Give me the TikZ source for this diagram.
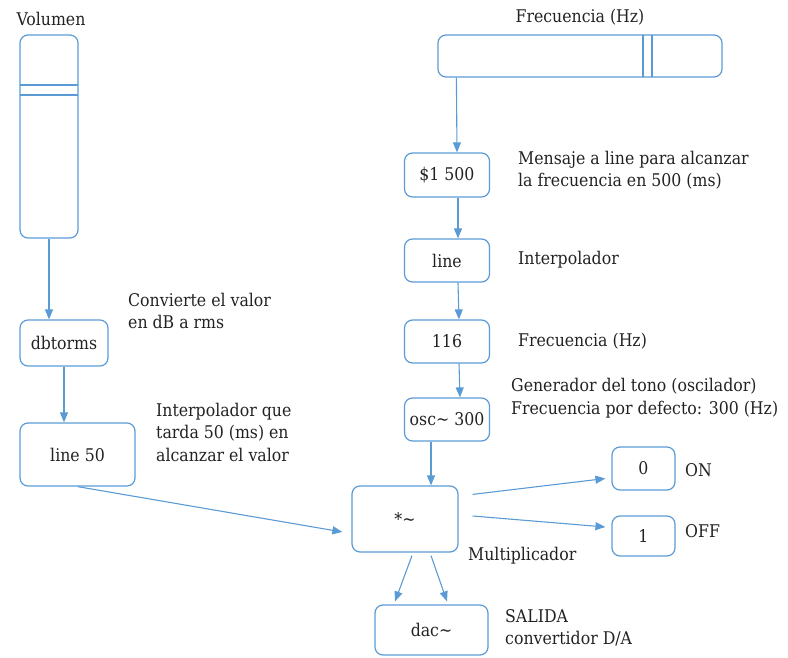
\documentclass[tikz,border=0pt]{standalone}
\usepackage{fontspec}
\setmainfont{DejaVu Serif Condensed}
\usetikzlibrary{arrows.meta,calc}
\definecolor{azul}{HTML}{5B9BD5}
\definecolor{texto}{HTML}{222222}
\tikzset{
  caja/.style={draw=azul, line width=1.2pt, rounded corners=8pt, inner sep=0pt, align=center},
  flecha/.style={draw=azul, line width=1.1pt, -{Triangle[length=10pt,width=8pt]}},
  nota/.style={anchor=west, align=left, inner sep=0pt},
}
\begin{document}
\begin{tikzpicture}[x=1pt, y=-1pt, font=\fontsize{17.5}{22.5}\selectfont, text=texto]
  \useasboundingbox (0,0) rectangle (788,658);
  % Sliders
  \node[caja, minimum width=58pt, minimum height=203pt] (vol) at (49,136.5) {};
  \draw[azul, line width=1.2pt] (20,85) -- (78,85) (20,95) -- (78,95);
  \node (tvol) at (51,19) {Volumen};
  \node[caja, minimum width=284pt, minimum height=42pt] (freq) at (580,56) {};
  \draw[azul, line width=1.2pt] (643,35) -- (643,77) (652,35) -- (652,77);
  \node (tfreq) at (580,17) {Frecuencia (Hz)};
  % Left chain
  \node[caja, minimum width=88pt, minimum height=46pt] (dbt) at (64,343) {dbtorms};
  \node[caja, minimum width=115pt, minimum height=63pt] (l50) at (77.5,454.5) {line 50};
  % Right chain
  \node[caja, minimum width=85pt, minimum height=44pt] (m500) at (447,175) {\$1 500};
  \node[caja, minimum width=85pt, minimum height=43pt] (lin) at (447,260.5) {line};
  \node[caja, minimum width=85pt, minimum height=43pt] (f116) at (447,341.5) {116};
  \node[caja, minimum width=85pt, minimum height=43pt] (osc) at (447,419.5) {osc\textasciitilde{} 300};
  \node[caja, minimum width=106pt, minimum height=66pt] (mult) at (405,519) {*\textasciitilde};
  \node[caja, minimum width=63pt, minimum height=43pt] (on) at (643.5,468.5) {0};
  \node[caja, minimum width=63pt, minimum height=40pt] (off) at (643.5,536) {1};
  \node[caja, minimum width=113pt, minimum height=50pt] (dac) at (431.5,630) {dac\textasciitilde};
  % Notes
  \node[nota] (n1) at (128,311) {Convierte el valor\\en dB a rms};
  \node[nota] (n2) at (156,432) {Interpolador que\\tarda 50 (ms) en\\alcanzar el valor};
  \node[nota] (n3) at (518,170) {Mensaje a line para alcanzar\\la frecuencia en 500 (ms)};
  \node[nota] (n4) at (518,260) {Interpolador};
  \node[nota] (n5) at (518,341) {Frecuencia (Hz)};
  \node[nota] (n6) at (511,398) {Generador del tono (oscilador)\\Frecuencia por defecto: 300 (Hz)};
  \node[nota] (n7) at (685,470) {ON};
  \node[nota] (n8) at (685,531) {OFF};
  \node[nota] (n9) at (468,556) {Multiplicador};
  \node[nota] (n10) at (505,628) {SALIDA\\convertidor D/A};
  % Connectors
  \draw[flecha] (vol.south) -- (vol.south |- dbt.north);
  \draw[flecha] (dbt.south) -- (dbt.south |- l50.north);
  \draw[flecha] (l50.south) -- ($(mult.west)+(-9,13)$);
  \draw[flecha] ($(freq.south west)+(19,0)$) -- ($(m500.north)+(10,0)$);
  \draw[flecha] ($(m500.south)+(11,0)$) -- ($(lin.north)+(11,0)$);
  \draw[flecha] ($(lin.south)+(11,0)$) -- ($(f116.north)+(12,0)$);
  \draw[flecha] ($(f116.south)+(12,0)$) -- ($(osc.north)+(13,0)$);
  \draw[flecha] ($(osc.south)+(-16,0)$) -- ($(mult.north)+(26,0)$);
  \draw[flecha] ($(mult.north east)+(14,9)$) -- ($(on.west)+(-6,10)$);
  \draw[flecha] ($(mult.east)+(14,-3)$) -- ($(off.west)+(-6,-9)$);
  \draw[flecha] ($(mult.south)+(7,3)$) -- ($(dac.north)+(-36.5,-3)$);
  \draw[flecha] ($(mult.south)+(26,3)$) -- ($(dac.north)+(15.5,-3)$);
\end{tikzpicture}
\end{document}
